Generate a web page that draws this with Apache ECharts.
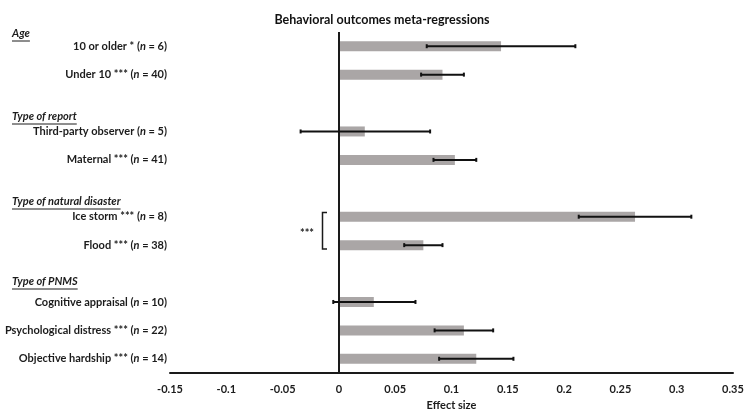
<!DOCTYPE html>
<html>
<head>
<meta charset="utf-8">
<script src="https://cdn.jsdelivr.net/npm/echarts@6/dist/echarts.min.js"></script>
<style>
html,body{margin:0;padding:0;background:#fff;}
#chart{width:754px;height:420px;}
</style>
</head>
<body>
<div id="chart"></div>
<script>
// ---- data ----
var categories = ['10 or older', 'Under 10', 'gap1', 'Third-party observer', 'Maternal', 'gap2', 'Ice storm', 'Flood', 'gap3', 'Cognitive appraisal', 'Psychological distress', 'Objective hardship'];
var stars = ['*', '***', '', '', '***', '', '***', '***', '', '', '***', '***'];
var nValues = [6, 40, null, 5, 41, null, 8, 38, null, 10, 22, 14];
var effectSize = [0.144, 0.092, null, 0.023, 0.103, null, 0.263, 0.075, null, 0.031, 0.111, 0.122];
var ciLow = [0.078, 0.073, null, -0.034, 0.084, null, 0.213, 0.058, null, -0.005, 0.085, 0.089];
var ciHigh = [0.210, 0.111, null, 0.081, 0.122, null, 0.313, 0.092, null, 0.068, 0.137, 0.155];
var groupHeaders = ['Age', 'Type of report', 'Type of natural disaster', 'Type of PNMS'];
var xTicks = { min: -0.15, max: 0.35, interval: 0.05 };

var FONT = 'Lato';
var TXT = '#1c1c1c';
var chart = echarts.init(document.getElementById('chart'));

var errData = [];
for (var i = 0; i < categories.length; i++) {
  if (ciLow[i] != null) errData.push([i, ciLow[i], ciHigh[i]]);
}

function measure(text, font) {
  var c = document.createElement('canvas').getContext('2d');
  c.font = font;
  return c.measureText(text).width;
}

var headerY = [35, 118, 203, 283];
var graphics = [];
groupHeaders.forEach(function (h, k) {
  var w = measure(h, 'italic bold 11px ' + FONT);
  graphics.push({
    type: 'text', left: 12, top: headerY[k] - 7,
    style: { text: h, font: 'italic bold 11px ' + FONT, fill: TXT }
  });
  graphics.push({
    type: 'line', shape: { x1: 12, y1: headerY[k] + 6, x2: 12 + w, y2: headerY[k] + 6 },
    style: { stroke: TXT, lineWidth: 1 }
  });
});
// bracket for significance
graphics.push({
  type: 'polyline',
  shape: { points: [[327, 212.5], [322.5, 212.5], [322.5, 249], [327, 249]] },
  style: { stroke: '#1a1a1a', lineWidth: 1.5, fill: null }
});
graphics.push({
  type: 'text', left: 300, top: 228,
  style: { text: '***', font: 'bold 11px ' + FONT, fill: TXT }
});

var option = {
  animation: false,
  title: {
    text: 'Behavioral outcomes meta-regressions',
    left: 377, top: 8, textAlign: 'center',
    textStyle: { fontFamily: FONT, fontWeight: 'bold', fontSize: 12.5, color: '#111' }
  },
  grid: { left: 170, right: 21, top: 32, bottom: 47, containLabel: false },
  xAxis: {
    type: 'value', min: xTicks.min, max: xTicks.max, interval: xTicks.interval,
    name: 'Effect size', nameLocation: 'middle', nameGap: 25,
    nameTextStyle: { fontFamily: FONT, fontWeight: 'bold', fontSize: 11, color: TXT },
    axisLine: { show: true, onZero: false, lineStyle: { color: '#1a1a1a', width: 2 } },
    axisTick: { show: false },
    splitLine: { show: false },
    axisLabel: {
      margin: 11, fontFamily: FONT, fontWeight: 'bold', fontSize: 11, color: TXT,
      formatter: function (v) { return String(Math.round(v * 100) / 100); }
    }
  },
  yAxis: {
    type: 'category', data: categories, inverse: true,
    axisLine: { show: false }, axisTick: { show: false }, splitLine: { show: false },
    axisLabel: {
      margin: 3,
      formatter: function (v, idx) {
        if (nValues[idx] == null) return '';
        var s = stars[idx] ? ' ' + stars[idx] : '';
        return '{b|' + v + s + ' (}{i|n}{b| = ' + nValues[idx] + ')}';
      },
      rich: {
        b: { fontFamily: FONT, fontWeight: 'bold', fontSize: 11, color: TXT },
        i: { fontFamily: FONT, fontWeight: 'bold', fontStyle: 'italic', fontSize: 11, color: TXT }
      }
    }
  },
  series: [
    {
      type: 'bar', data: effectSize, barWidth: 10,
      itemStyle: { color: '#aaa6a6' },
      markLine: {
        silent: true, symbol: 'none', animation: false,
        label: { show: false },
        lineStyle: { color: '#1a1a1a', width: 2, type: 'solid' },
        data: [{ xAxis: 0 }]
      }
    },
    {
      type: 'custom', data: errData, z: 5,
      encode: { x: [1, 2], y: 0 },
      renderItem: function (params, api) {
        var idx = api.value(0);
        var p1 = api.coord([api.value(1), idx]);
        var p2 = api.coord([api.value(2), idx]);
        var c = 2;
        var st = { stroke: '#111', lineWidth: 2 };
        return {
          type: 'group',
          children: [
            { type: 'line', shape: { x1: p1[0], y1: p1[1], x2: p2[0], y2: p2[1] }, style: st },
            { type: 'line', shape: { x1: p1[0], y1: p1[1] - c, x2: p1[0], y2: p1[1] + c }, style: st },
            { type: 'line', shape: { x1: p2[0], y1: p2[1] - c, x2: p2[0], y2: p2[1] + c }, style: st }
          ]
        };
      }
    }
  ],
  graphic: graphics
};
chart.setOption(option);
</script>
</body>
</html>
